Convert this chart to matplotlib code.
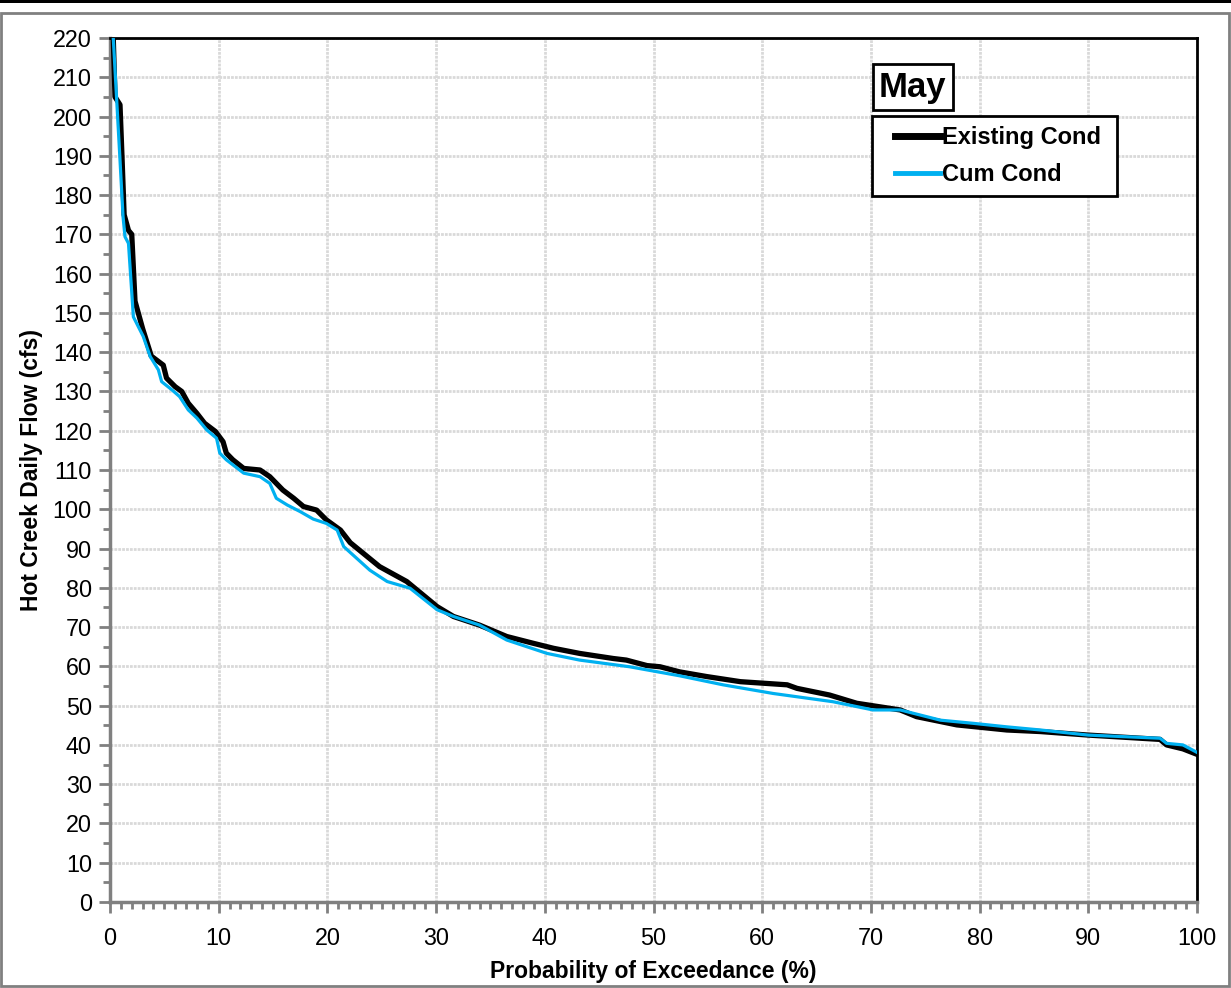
import matplotlib
matplotlib.use('Agg')
import matplotlib.pyplot as plt
from matplotlib.patches import Rectangle
from matplotlib.lines import Line2D
from matplotlib.legend_handler import HandlerLine2D
import numpy as np

plt.rcParams['font.family'] = ['Liberation Sans', 'DejaVu Sans']

# data (probability of exceedance %, flow cfs)
existing_x = [0, 0.3, 0.46, 0.92, 1.1, 1.3, 1.7, 2.0, 2.3, 3.0, 3.8, 4.9, 5.2, 6.0, 6.6, 7.2,
              8.0, 8.7, 9.7, 10.4, 10.7, 11.3, 12.3, 13.8, 14.7, 15.9, 16.9, 17.8, 19.0, 19.9,
              21.2, 22.1, 24.8, 27.3, 30.1, 31.6, 34.0, 36.5, 38.9, 40.8, 43.2, 46.3, 47.5,
              49.4, 50.6, 52.4, 54.9, 58.0, 62.3, 63.2, 66.2, 68.7, 72.7, 74.2, 77.9, 82.5,
              85.6, 90.0, 96.6, 97.2, 98.7, 100]
existing_y = [235, 220, 205, 203, 190, 175, 171, 170, 153, 146, 139, 136.7, 133.4, 131.2, 130,
              127, 124.4, 121.9, 119.8, 117.2, 114.3, 112.6, 110.4, 110, 108.3, 104.9, 102.8,
              100.7, 99.8, 97.3, 94.7, 91.5, 85.4, 81.6, 75.2, 72.7, 70.5, 67.6, 65.9, 64.6,
              63.3, 62.0, 61.6, 60.2, 59.9, 58.6, 57.4, 56.1, 55.3, 54.4, 52.7, 50.6, 48.9,
              47.2, 45.1, 43.8, 43.4, 42.5, 41.4, 40.0, 39.0, 37.6]

cum_x = [0, 0.3, 0.6, 0.9, 1.2, 1.38, 1.7, 2.15, 3.06, 3.7, 4.45, 4.75, 5.7, 6.4, 7.2, 8.0,
         8.9, 9.8, 10.1, 10.7, 12.3, 13.8, 14.7, 15.3, 16.3, 17.5, 18.7, 19.9, 20.9, 21.5,
         23.9, 25.5, 27.6, 30.1, 31.6, 34.0, 36.5, 40.2, 43.2, 47.8, 52.4, 56.4, 61.0, 66.5,
         70.2, 72.7, 76.4, 79.4, 82.5, 85.6, 90.0, 96.6, 97.2, 98.7, 100]
cum_y = [235, 220, 205, 190, 174.5, 169.4, 167.7, 149, 144, 138.9, 135.5, 132.5, 130.4, 128.7,
         125.3, 123.2, 120.2, 118.1, 114.3, 112.6, 109.2, 108.3, 106.6, 102.8, 101.1, 99.4,
         97.5, 96.4, 94.7, 90.5, 84.5, 81.6, 79.9, 74.4, 72.7, 70.5, 66.7, 63.3, 61.6, 59.9,
         57.6, 55.3, 53.1, 51.0, 48.9, 48.9, 46.3, 45.5, 44.6, 43.8, 42.5, 41.7, 40.4, 40.0,
         38.1]

series_names = ['Existing Cond', 'Cum Cond']


# legend line that leaves some blank space on its left, like the Excel legend
class IndentedLine(HandlerLine2D):
    def get_xdata(self, legend, xdescent, ydescent, width, height, fontsize):
        start = -xdescent + 0.55 * fontsize
        return [start, -xdescent + width], [start]


fig = plt.figure(figsize=(12.31, 9.88), dpi=100)
ax = fig.add_axes([110/1231, 86/988, 1087/1231, 864/988])

# outer frame and top bar
fig.patches.append(Rectangle((1/1231, 2/988), 1228/1231, 973/988, transform=fig.transFigure,
                             fill=False, edgecolor='#808080', linewidth=2))
fig.patches.append(Rectangle((0, 985/988), 1, 3/988, transform=fig.transFigure,
                             facecolor='black', edgecolor='none'))

ax.plot(existing_x, existing_y, color='black', linewidth=3.8, zorder=3)
ax.plot(cum_x, cum_y, color='#00b0f0', linewidth=2.3, zorder=4)

ax.set_xlim(0, 100)
ax.set_ylim(0, 220)
ax.set_xticks(np.arange(0, 101, 10))
ax.set_xticks(np.arange(0, 101, 1), minor=True)
ax.set_yticks(np.arange(0, 221, 10))
ax.set_yticks(np.arange(5, 221, 10), minor=True)

ax.grid(True, which='major', color='#d9d9d9', linewidth=2, linestyle=(0, (1, 0.4)))
ax.set_axisbelow(True)

for s in ['left', 'bottom']:
    ax.spines[s].set_color('#808080')
    ax.spines[s].set_linewidth(2.5)
for s in ['top', 'right']:
    ax.spines[s].set_color('black')
    ax.spines[s].set_linewidth(2)

ax.tick_params(which='major', direction='out', length=8, width=2, color='#808080',
               labelsize=16.8)
ax.tick_params(which='minor', direction='out', length=5, width=2, color='#808080')
ax.tick_params(axis='x', which='major', pad=10)
ax.tick_params(axis='y', which='major', pad=5)

ax.set_xlabel('Probability of Exceedance (%)', fontsize=16.5, fontweight='bold', labelpad=7)
ax.set_ylabel('Hot Creek Daily Flow (cfs)', fontsize=16.5, fontweight='bold', labelpad=7)

# "May" title box
ax.text(0.7075, 0.943, 'May', transform=ax.transAxes, fontsize=25, fontweight='bold',
        ha='left', va='center',
        bbox=dict(boxstyle='square,pad=0.18', facecolor='white', edgecolor='black', linewidth=2))

handles = [Line2D([0], [0], color='black', linewidth=5),
           Line2D([0], [0], color='#00b0f0', linewidth=3.5)]
leg = ax.legend(handles, [n + ' ' for n in series_names], loc='upper left',
                bbox_to_anchor=(0.701, 0.9097), borderaxespad=0, fancybox=False, framealpha=1,
                edgecolor='black', handlelength=2.46, handletextpad=0.08,
                borderpad=0.42, labelspacing=0.6,
                handler_map={Line2D: IndentedLine()},
                prop={'weight': 'bold', 'size': 17})
leg.get_frame().set_linewidth(2)

fig.savefig('out.png', dpi=100)
